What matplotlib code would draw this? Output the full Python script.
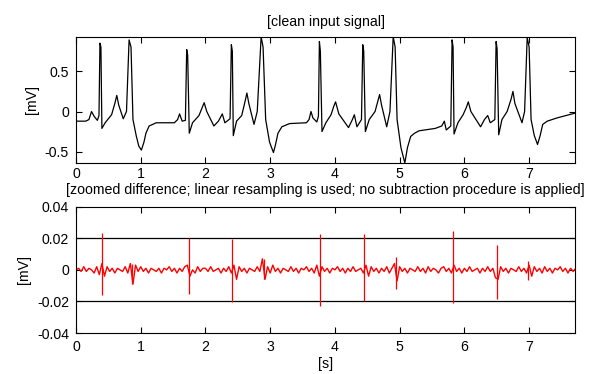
import numpy as np
import matplotlib.pyplot as plt

plt.rcParams['font.family'] = ['Liberation Sans', 'DejaVu Sans']
plt.rcParams['font.size'] = 10.2

# clean ECG trace, vertices (time [s], value [mV])
ecg_t = [0.00, 0.15, 0.20, 0.24, 0.28, 0.33, 0.355, 0.37, 0.385, 0.40, 0.45, 0.55, 0.60, 0.63, 0.66, 0.73,
         0.78, 0.82, 0.85, 0.88, 0.93, 0.97, 1.01, 1.05, 1.08, 1.13, 1.24, 1.52, 1.57, 1.60, 1.64, 1.69,
         1.71, 1.725, 1.75, 1.80, 1.90, 1.95, 1.98, 2.02, 2.13, 2.20, 2.26, 2.30, 2.38, 2.40, 2.415, 2.43,
         2.48, 2.56, 2.61, 2.64, 2.67, 2.75, 2.80, 2.86, 2.89, 2.93, 2.99, 3.05, 3.08, 3.12, 3.18, 3.30, 3.56,
         3.60, 3.63, 3.66, 3.72, 3.745, 3.76, 3.775, 3.80, 3.86, 3.94, 3.98, 4.01, 4.06, 4.21, 4.27, 4.30,
         4.34, 4.41, 4.43, 4.445, 4.47, 4.53, 4.62, 4.66, 4.69, 4.72, 4.80, 4.85, 4.90, 4.93, 4.96, 5.02,
         5.08, 5.12, 5.17, 5.23, 5.30, 5.55, 5.65, 5.69, 5.72, 5.79, 5.81, 5.825, 5.84, 5.90, 5.98, 6.03, 6.06,
         6.10, 6.25, 6.31, 6.36, 6.40, 6.47, 6.49, 6.505, 6.53, 6.58, 6.66, 6.72, 6.75, 6.78, 6.89, 6.93,
         6.97, 7.00, 7.03, 7.08, 7.13, 7.17, 7.21, 7.28, 7.43, 7.71]
ecg_v = [-0.12, -0.12, -0.10, 0.00, -0.06, -0.11, -0.05, 0.85, 0.80, -0.21, -0.14, -0.04, 0.10, 0.20, 0.08, -0.09,
         0.00, 0.89, 0.80, -0.10, -0.30, -0.43, -0.48, -0.38, -0.27, -0.18, -0.14, -0.14, -0.10, -0.03, -0.12, -0.11,
         0.77, 0.70, -0.27, -0.14, -0.05, 0.05, 0.11, 0.00, -0.18, -0.12, -0.03, -0.14, -0.09, 0.83, 0.75, -0.30,
         -0.12, -0.05, 0.12, 0.23, 0.10, -0.16, 0.00, 0.93, 0.80, -0.10, -0.38, -0.51, -0.42, -0.27, -0.19, -0.15, -0.14,
         -0.10, 0.00, -0.08, -0.13, -0.06, 0.87, 0.75, -0.25, -0.14, -0.04, 0.06, 0.12, -0.03, -0.20, -0.10, -0.04,
         -0.19, -0.10, 0.83, 0.75, -0.25, -0.10, 0.00, 0.12, 0.21, 0.08, -0.19, 0.00, 0.93, 0.80, -0.10, -0.45,
         -0.64, -0.45, -0.31, -0.27, -0.24, -0.21, -0.18, -0.12, -0.23, -0.18, 0.89, 0.80, -0.28, -0.14, -0.04, 0.05, 0.12,
         0.00, -0.19, -0.10, -0.05, -0.14, -0.10, 0.87, 0.78, -0.29, -0.10, 0.00, 0.15, 0.25, 0.10, -0.14, 0.00,
         0.92, 0.80, -0.10, -0.30, -0.41, -0.30, -0.16, -0.12, -0.08, -0.02]

# difference signal: background ripple every 0.04 s, in microvolts
ripple_uv = [0, 1, -1, 2, -1, 1, 0, -2, 2, -3, 4, -4, 2, -1, 1, -2, 1, 0, -1, 2, -2, 4, -9, 3, -1,
             2, -1, 1, -2, 1, 0, -1, 1, -2, 1, 0, 2, -1, 1, -2, 1, -1, 2, 3, -4, 0, -2, 2, -1, 1,
             1, -1, 2, -1, 0, 1, -2, 1, -1, 2, -2, 3, -6, 2, -1, 1, -2, 1, 0, -1, 2, -1, 7, -6, 2,
             -2, 3, -1, 1, -2, 1, 0, -1, 2, -1, 1, -2, 1, 0, 2, -1, 1, -2, 3, -4, 2, -1, 1, -2, 1,
             0, 2, -1, 1, -2, 1, -1, 2, -1, 0, 1, -2, 3, -4, 2, -1, 1, -2, 1, -1, 2, -2, 1, 4, -7,
             2, -1, 1, -2, 1, 0, -1, 2, -1, 1, -2, 2, -1, 1, 0, -2, 1, 2, -1, 1, -2, 3, -1, 1, -2,
             1, -1, 2, -1, 0, 1, -2, 1, -1, 2, -1, 1, -5, -6, 2, -1, 1, -2, 1, 0, -1, 2, -1, 1, -2,
             3, -4, 2, -1, 1, -2, 2, -1, 1, -2, 1, 0, 2, -1, 1, -2, 1, -1, 1]
ripple_t = np.arange(len(ripple_uv)) * 0.04

# spikes in the difference at the QRS complexes
spike_t = [0.40, 0.87, 1.74, 2.41, 2.90, 3.77, 4.45, 4.95, 5.82, 6.50, 6.98]
spike_up = [0.0233, 0.004, 0.020, 0.0197, 0.007, 0.0225, 0.0226, 0.0084, 0.0244, 0.016, 0.0057]
spike_dn = [-0.016, -0.009, -0.0155, -0.0205, -0.006, -0.0229, -0.0198, -0.012, -0.0207, -0.0185, -0.0066]

fig = plt.figure(figsize=(5.97, 3.74), dpi=100)
ax1 = fig.add_axes([0.1273, 0.5642, 0.836, 0.3377])
ax2 = fig.add_axes([0.1273, 0.1096, 0.836, 0.3377])

ax1.plot(ecg_t, ecg_v, color='black', lw=0.9)
ax1.set_xlim(0, 7.71)
ax1.set_ylim(-0.64, 0.93)
ax1.set_yticks([-0.5, 0, 0.5])
ax1.set_yticklabels(['-0.5', '0', '0.5'])
ax1.set_xticks(range(8))
ax1.set_ylabel('[mV]', labelpad=4)
ax1.set_title('[clean input signal]', fontsize=10.2, pad=8)

ax2.axhline(0.02, color='black', lw=0.9)
ax2.axhline(-0.02, color='black', lw=0.9)
ax2.plot(ripple_t, np.array(ripple_uv) * 0.001, color='red', lw=1.0)
ax2.vlines(spike_t, spike_dn, spike_up, color='red', lw=0.9)
ax2.set_xlim(0, 7.71)
ax2.set_ylim(-0.04, 0.04)
ax2.set_yticks([-0.04, -0.02, 0, 0.02, 0.04])
ax2.set_yticklabels(['-0.04', '-0.02', '0', '0.02', '0.04'])
ax2.set_xticks(range(8))
ax2.set_ylabel('[mV]', labelpad=4)
ax2.set_xlabel('[s]', labelpad=2)
ax2.set_title('[zoomed difference; linear resampling is used; no subtraction procedure is applied]',
              fontsize=10.2, pad=9)

for ax in (ax1, ax2):
    ax.tick_params(direction='in', top=True, right=True, length=4, width=0.8, pad=5)
    for s in ax.spines.values():
        s.set_linewidth(0.8)
ax1.tick_params(axis='x', pad=3)

fig.savefig('out.png', dpi=100)
